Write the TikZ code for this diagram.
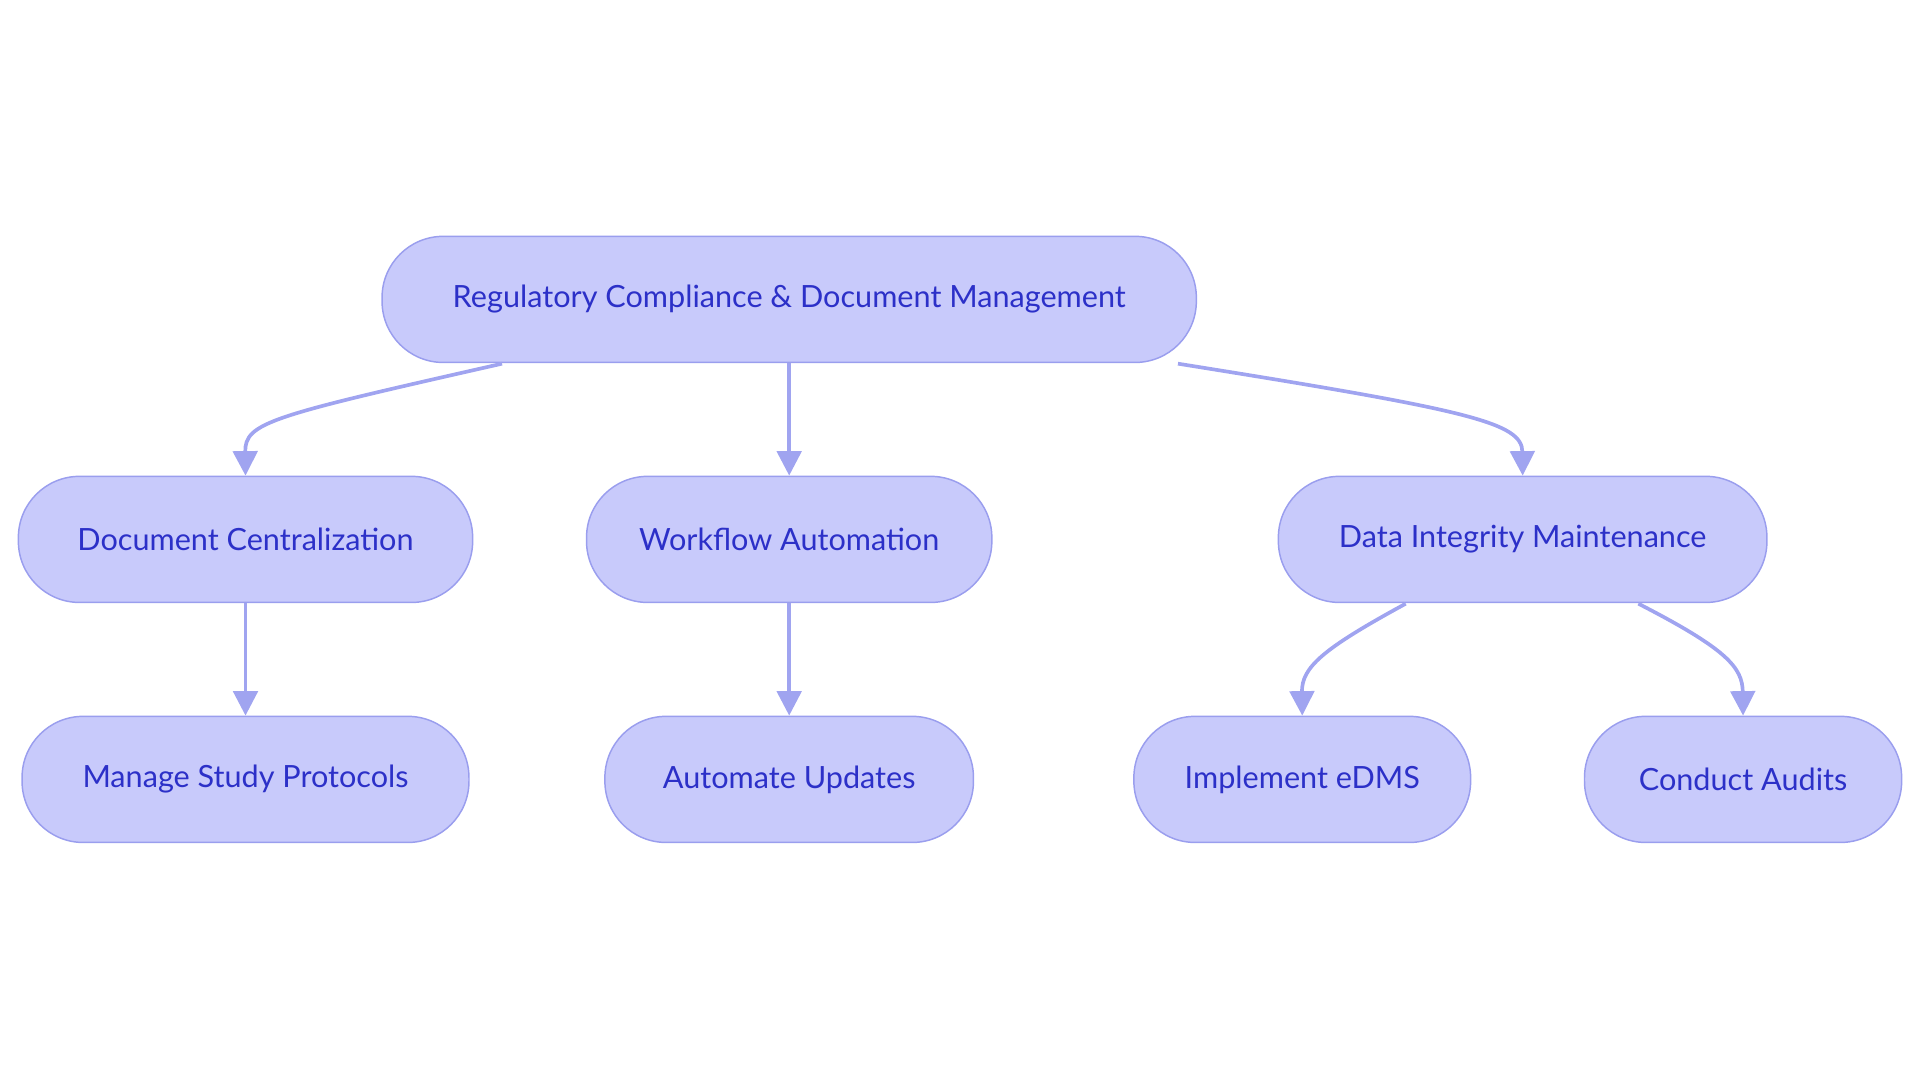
\documentclass[tikz,border=0pt]{standalone}
\usepackage{fontspec}
\setmainfont{Lato}
\usetikzlibrary{arrows.meta}
\definecolor{nfill}{HTML}{C8CAFB}
\definecolor{ndraw}{HTML}{9A9EEE}
\definecolor{ntext}{HTML}{2C30C8}
\definecolor{edge}{HTML}{A0A4F0}
\begin{document}
\begin{tikzpicture}[x=1pt,y=-1pt,
  box/.style={draw=ndraw,fill=nfill,line width=1.2pt,rounded corners=50pt,text=ntext,font=\fontsize{25}{30}\selectfont,minimum height=103pt,inner sep=0pt,anchor=center},
  con/.style={draw=edge,line width=3pt,-{Triangle[length=20pt,width=20pt]}}]
\useasboundingbox (0,0) rectangle (1568,884.4);
\node[box,minimum width=665pt] (root) at (644.5,244.5) {Regulatory Compliance \& Document Management};
\node[box,minimum width=371pt] (dc) at (200.5,440.5) {Document Centralization};
\node[box,minimum width=331pt] (wa) at (644.5,440.5) {Workflow Automation};
\node[box,minimum width=399pt] (di) at (1243.5,440.5) {Data Integrity Maintenance};
\node[box,minimum width=365pt] (ms) at (200.5,636.5) {Manage Study Protocols};
\node[box,minimum width=301pt] (au) at (644.5,636.5) {Automate Updates};
\node[box,minimum width=275pt] (ie) at (1063.5,636.5) {Implement eDMS};
\node[box,minimum width=259pt] (ca) at (1423.5,636.5) {Conduct Audits};
\coordinate (r1) at (410,297);
\coordinate (r2) at (962,297);
\coordinate (d1) at (1148,493);
\coordinate (d2) at (1338,493);
\draw[con] (r1) .. controls (220,340) and (200,345) .. (dc.north);
\draw[con] (root.south) -- (wa.north);
\draw[con] (r2) .. controls (1200,335) and (1243,345) .. (di.north);
\draw[con] (dc.south) -- (ms.north);
\draw[con] (wa.south) -- (au.north);
\draw[con] (d1) .. controls (1080,530) and (1063,545) .. (ie.north);
\draw[con] (d2) .. controls (1410,530) and (1423,545) .. (ca.north);
\end{tikzpicture}
\end{document}
